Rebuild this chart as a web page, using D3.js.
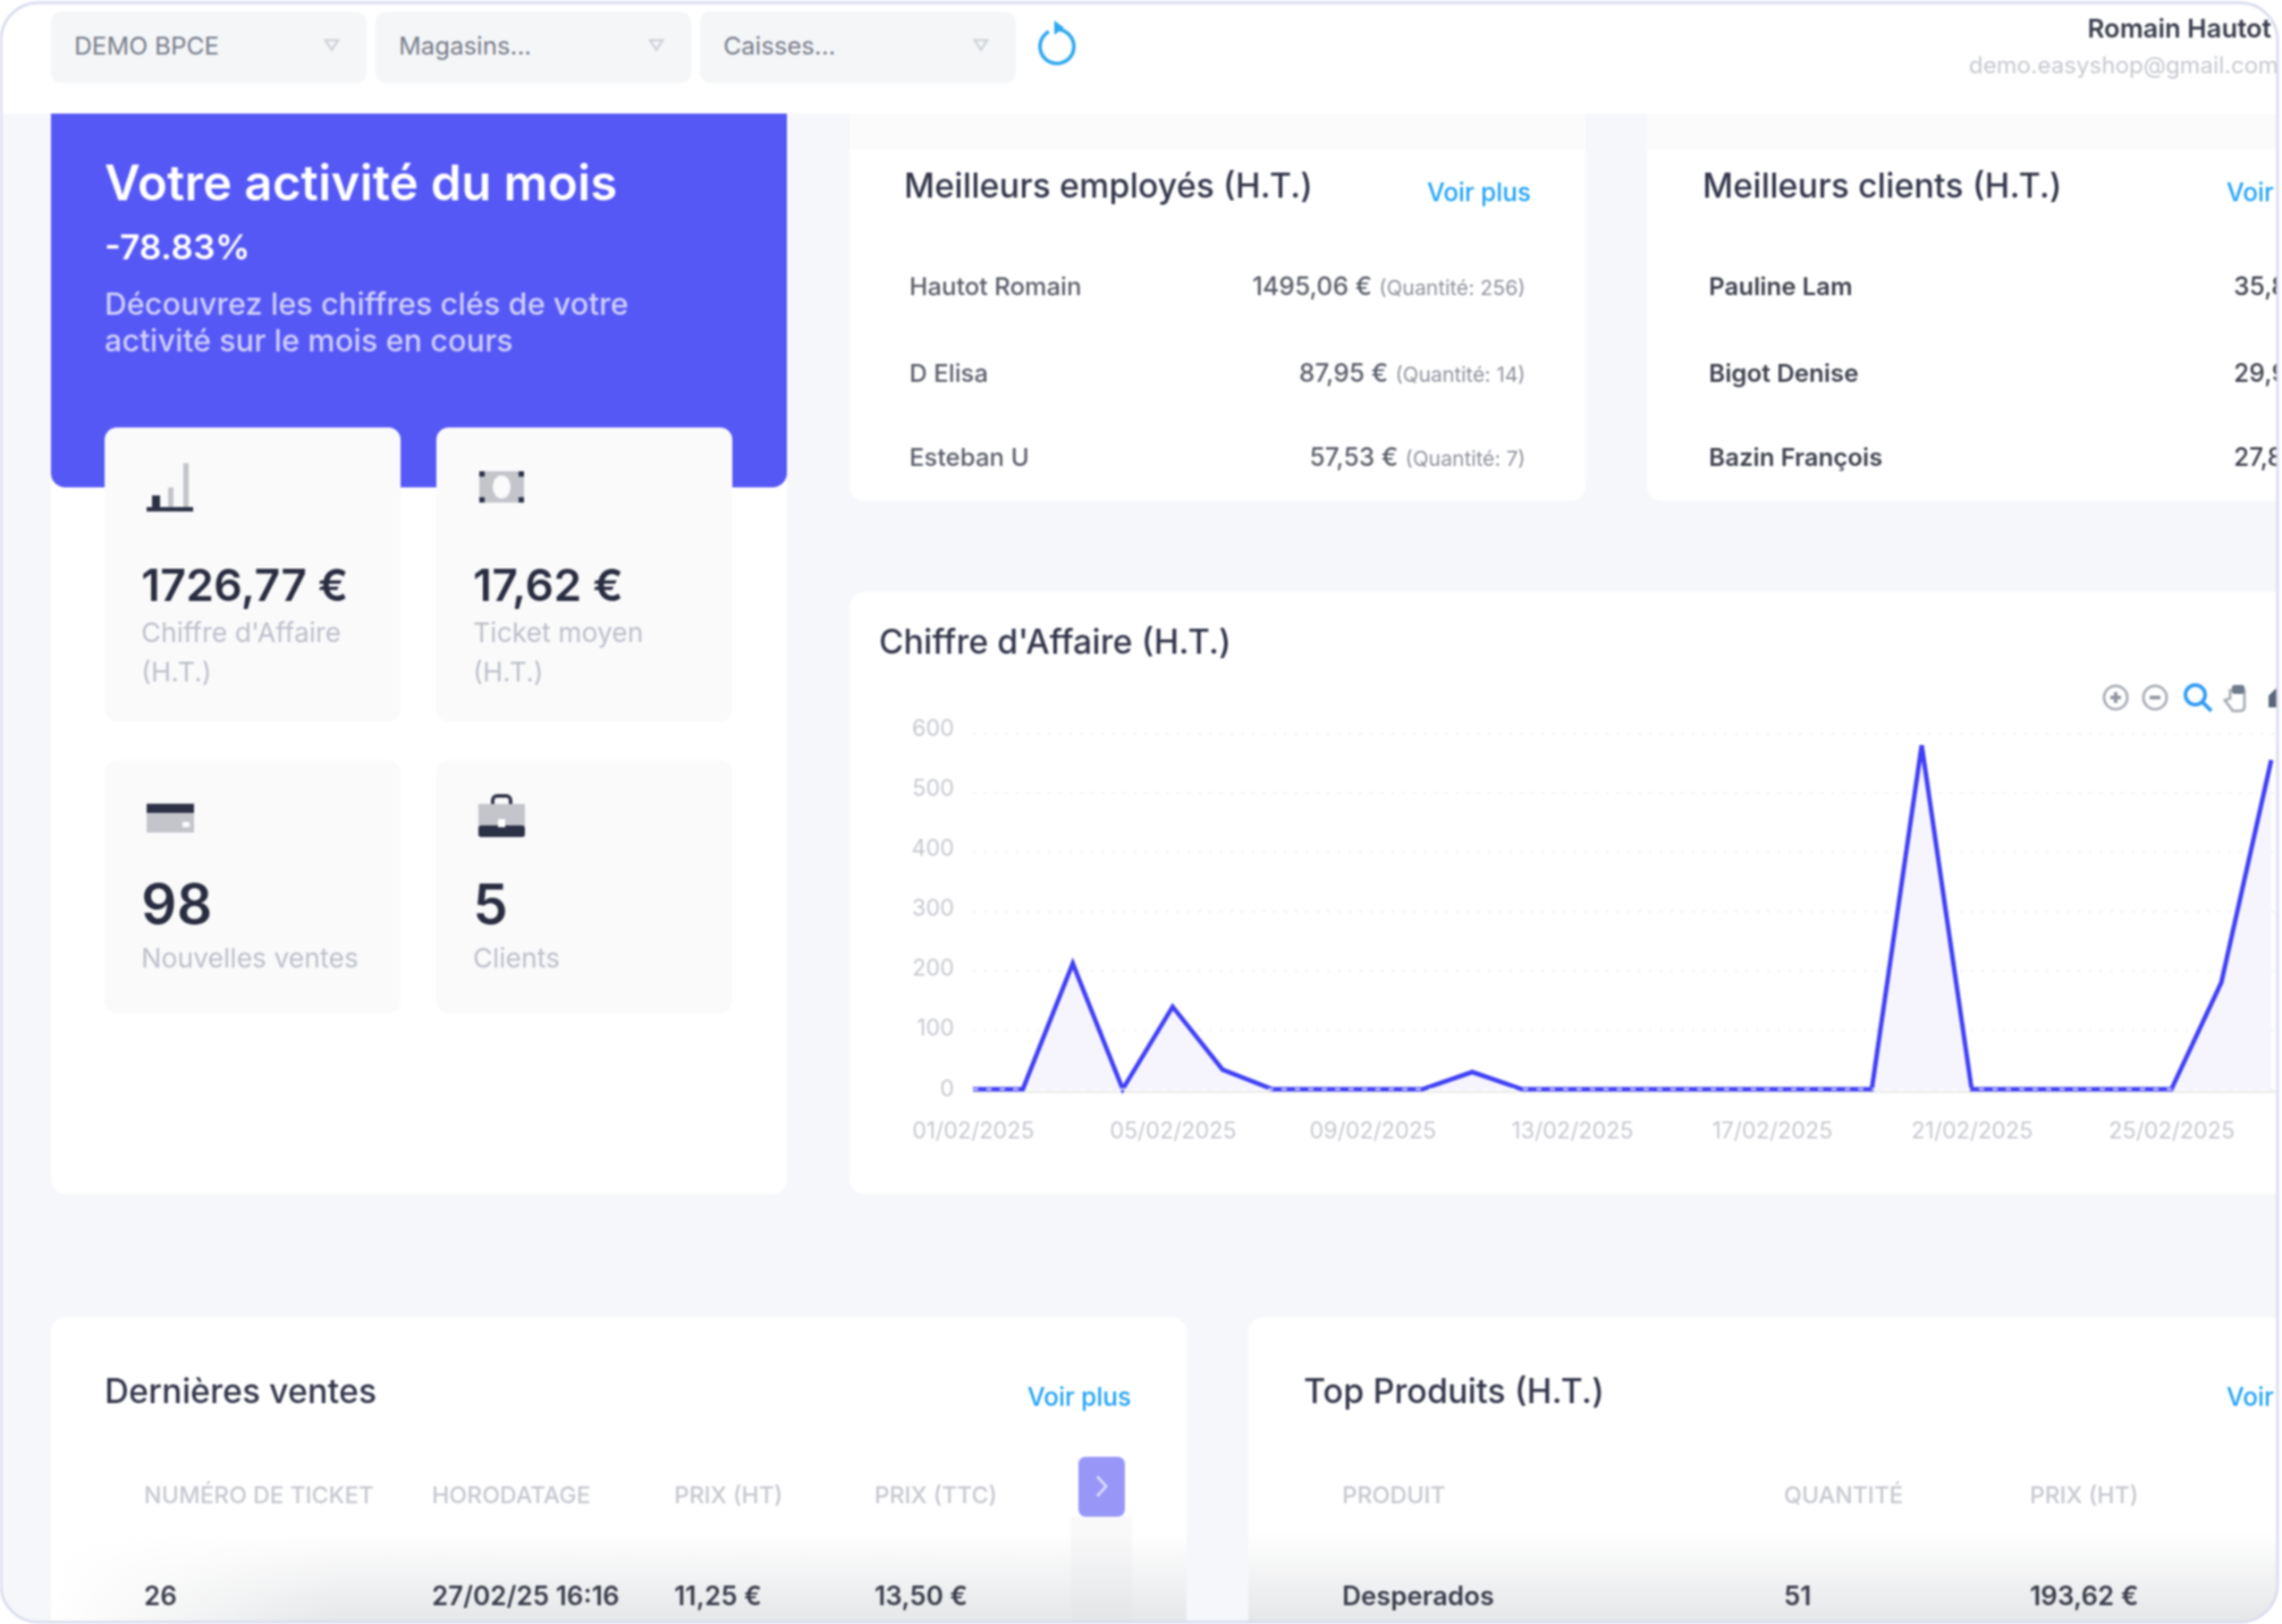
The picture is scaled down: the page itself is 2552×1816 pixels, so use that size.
<!DOCTYPE html>
<html lang="fr">
<head>
<meta charset="utf-8">
<title>Votre activité du mois</title>
<script src="https://cdn.jsdelivr.net/npm/d3@7"></script>
<style>
  html, body { margin: 0; padding: 0; background: #fff; }
  svg { display: block; font-family: Inter, "Noto Sans", sans-serif; filter: blur(1.2px); }
</style>
</head>
<body>
<div id="chart"></div>
<script>
/***********************************************************************/
//Data
/***********************************************************************/
const days = [
  '2025-02-01', '2025-02-02', '2025-02-03', '2025-02-04', '2025-02-05', '2025-02-06', '2025-02-07',
  '2025-02-08', '2025-02-09', '2025-02-10', '2025-02-11', '2025-02-12', '2025-02-13', '2025-02-14',
  '2025-02-15', '2025-02-16', '2025-02-17', '2025-02-18', '2025-02-19', '2025-02-20', '2025-02-21',
  '2025-02-22', '2025-02-23', '2025-02-24', '2025-02-25', '2025-02-26', '2025-02-27',
];
const revenue = [0, 0, 212, 0, 139, 33, 0, 0, 0, 0, 29, 0, 0, 0, 0, 0, 0, 0, 0, 580, 0, 0, 0, 0, 0, 180, 555];
const yTicks = [0, 100, 200, 300, 400, 500, 600];
const xTicks = ['2025-02-01', '2025-02-05', '2025-02-09', '2025-02-13', '2025-02-17', '2025-02-21', '2025-02-25'];

const filters = ['DEMO BPCE', 'Magasins...', 'Caisses...'];

const statValues = ['1726,77 €', '17,62 €', '98', '5'];
const statLabels = [["Chiffre d'Affaire", '(H.T.)'], ['Ticket moyen', '(H.T.)'], ['Nouvelles ventes'], ['Clients']];

const employees = ['Hautot Romain', 'D Elisa', 'Esteban U'];
const employeeAmounts = ['1495,06 €', '87,95 €', '57,53 €'];
const employeeQuantities = ['(Quantité: 256)', '(Quantité: 14)', '(Quantité: 7)'];

const clients = ['Pauline Lam', 'Bigot Denise', 'Bazin François'];
const clientAmounts = ['35,80 €', '29,90 €', '27,80 €'];

const salesHeaders = ['NUMÉRO DE TICKET', 'HORODATAGE', 'PRIX (HT)', 'PRIX (TTC)'];
const salesRow = ['26', '27/02/25 16:16', '11,25 €', '13,50 €'];
const productHeaders = ['PRODUIT', 'QUANTITÉ', 'PRIX (HT)'];
const productRow = ['Desperados', '51', '193,62 €'];

/***********************************************************************/
//Helpers
/***********************************************************************/
const W = 2552;
const H = 1816;
const DARK = '#33364a';
const BLUE_LINK = '#1fa2f5';
const GREY = '#bcbfc9';

const svg = d3.select('#chart').append('svg').attr('width', W).attr('height', H);
const defs = svg.append('defs');

defs.append('clipPath').attr('id', 'frame')
  .append('rect').attr('x', 1).attr('y', 3).attr('width', W - 6).attr('height', H - 5).attr('rx', 42);

const bottomFade = defs.append('linearGradient').attr('id', 'bottom-fade')
  .attr('x1', 0).attr('y1', 0).attr('x2', 0).attr('y2', 1);
bottomFade.append('stop').attr('offset', 0).attr('stop-color', '#d9dbde').attr('stop-opacity', 0);
bottomFade.append('stop').attr('offset', 1).attr('stop-color', '#d9dbde').attr('stop-opacity', 0.7);

const leftFade = defs.append('linearGradient').attr('id', 'left-fade');
leftFade.append('stop').attr('offset', 0).attr('stop-color', '#fff').attr('stop-opacity', 0);
leftFade.append('stop').attr('offset', 0.25).attr('stop-color', '#fff').attr('stop-opacity', 1);
defs.append('mask').attr('id', 'left-mask').attr('maskUnits', 'userSpaceOnUse')
  .attr('x', 57).attr('y', 1700).attr('width', 1270).attr('height', 116)
  .append('rect').attr('x', 57).attr('y', 1700).attr('width', 1270).attr('height', 116).attr('fill', 'url(#left-fade)');

const page = svg.append('g').attr('clip-path', 'url(#frame)');

const label = (parent, x, y, text, opts = {}) =>
  parent.append('text')
    .attr('x', x)
    .attr('y', y)
    .attr('text-anchor', opts.anchor || 'start')
    .attr('font-size', opts.size || 27.5)
    .attr('font-weight', opts.weight || 400)
    .attr('fill', opts.fill || DARK)
    .text(text);

const card = (x, y, w, h, fill = '#fff', r = 16) =>
  page.append('rect').attr('x', x).attr('y', y).attr('width', w).attr('height', h).attr('rx', r).attr('fill', fill);

/***********************************************************************/
//Page background and top bar
/***********************************************************************/
page.append('rect').attr('width', W).attr('height', H).attr('fill', '#f5f7fa');

card(57, 127, 823, 1208);
card(950, 127, 823, 433);
card(1842, 127, 800, 433);
card(950, 662, 1700, 673);
card(57, 1473, 1270, 400);
card(1396, 1473, 1250, 400);

// soft shadow of the top bar on the two upper cards
page.append('rect').attr('x', 950).attr('y', 127).attr('width', 823).attr('height', 40).attr('fill', '#fbfbfb');
page.append('rect').attr('x', 1842).attr('y', 127).attr('width', 720).attr('height', 40).attr('fill', '#fbfbfb');
page.append('rect').attr('width', W).attr('height', 127).attr('fill', '#fff');

filters.forEach((name, i) => {
  const x = 57 + i * 363;
  card(x, 13, 353, 80, '#f4f6f8', 12);
  label(page, x + 26, 61, name, { size: 27.5, fill: '#777b88' });
  page.append('path')
    .attr('d', d3.line()([[x + 307, 45], [x + 321, 45], [x + 314, 56]]) + 'Z')
    .attr('fill', 'none').attr('stroke', '#cfd2d8').attr('stroke-width', 2.5);
});

// refresh icon
const refresh = page.append('g').attr('transform', 'translate(1182,52)');
refresh.append('path')
  .attr('d', d3.arc()({ innerRadius: 17, outerRadius: 21, startAngle: 0.1, endAngle: 2 * Math.PI - 0.5 }))
  .attr('fill', '#2fa8ee');
refresh.append('path').attr('d', 'M-3,-29 L8,-21 L-3,-13 Z').attr('fill', '#2fa8ee');

label(page, 2540, 42, 'Romain Hautot', { anchor: 'end', size: 29, weight: 600, fill: '#3a3d4c' });
label(page, 2548, 82, 'demo.easyshop@gmail.com', { anchor: 'end', size: 25.9, fill: '#c6c8cf' });

/***********************************************************************/
//Monthly activity panel
/***********************************************************************/
page.append('path')
  .attr('d', 'M57,127 H880 V529 a16,16 0 0 1 -16,16 H73 a16,16 0 0 1 -16,-16 Z')
  .attr('fill', '#5558f5');
label(page, 117, 224, 'Votre activité du mois', { size: 54.8, weight: 600, fill: '#fff' });
label(page, 117, 290, '-78.83%', { size: 38.8, weight: 600, fill: '#fff' });
label(page, 117, 352, 'Découvrez les chiffres clés de votre', { size: 34.2, weight: 500, fill: '#cfcffc' });
label(page, 117, 393, 'activité sur le mois en cours', { size: 34.2, weight: 500, fill: '#cfcffc' });

const statX = [117, 488];
const statBoxes = [
  { y: 478, h: 329, valueY: 672, labelY: 718, size: 50 },
  { y: 850, h: 283, valueY: 1033, labelY: 1082, size: 62 },
];
statValues.forEach((value, i) => {
  const box = statBoxes[Math.floor(i / 2)];
  const x = statX[i % 2];
  card(x, box.y, 331, box.h, '#fafafb', 14);
  label(page, x + 41, box.valueY, value, { size: box.size, weight: 600, fill: '#2a2d40' });
  statLabels[i].forEach((line, j) => {
    label(page, x + 41, box.labelY + j * 44, line, { size: 30, fill: GREY });
  });
});

// stat icons
const iconDark = '#2d3146';
const iconLight = '#c3c5cb';
const barsIcon = page.append('g').attr('transform', 'translate(164,518)');
barsIcon.append('rect').attr('x', 0).attr('y', 49).attr('width', 52).attr('height', 5).attr('fill', iconDark);
barsIcon.append('rect').attr('x', 6).attr('y', 36).attr('width', 9).attr('height', 13).attr('fill', iconDark);
barsIcon.append('rect').attr('x', 24).attr('y', 27).attr('width', 6).attr('height', 22).attr('fill', iconLight);
barsIcon.append('rect').attr('x', 41).attr('y', 0).attr('width', 6).attr('height', 49).attr('fill', iconLight);

const moneyIcon = page.append('g').attr('transform', 'translate(536,527)');
moneyIcon.append('rect').attr('width', 50).attr('height', 35).attr('fill', iconLight);
moneyIcon.append('ellipse').attr('cx', 25).attr('cy', 17.5).attr('rx', 10).attr('ry', 13).attr('fill', '#fafafb');
[[0, 0], [44, 0], [0, 29], [44, 29]].forEach(([cx, cy]) => {
  moneyIcon.append('rect').attr('x', cx).attr('y', cy).attr('width', 6).attr('height', 6).attr('fill', iconDark);
});

const cardIcon = page.append('g').attr('transform', 'translate(164,898)');
cardIcon.append('rect').attr('width', 53).attr('height', 33).attr('y', 0).attr('fill', iconLight);
cardIcon.append('rect').attr('width', 53).attr('height', 10).attr('y', 1).attr('fill', iconDark);
cardIcon.append('rect').attr('x', 40).attr('y', 21).attr('width', 8).attr('height', 6).attr('fill', '#fafafb');

const bagIcon = page.append('g').attr('transform', 'translate(535,889)');
bagIcon.append('path').attr('d', 'M16,10 v-4 a5,5 0 0 1 5,-5 h10 a5,5 0 0 1 5,5 v4').attr('fill', 'none').attr('stroke', iconDark).attr('stroke-width', 4);
bagIcon.append('rect').attr('y', 10).attr('width', 52).attr('height', 24).attr('fill', iconLight);
bagIcon.append('rect').attr('y', 34).attr('width', 52).attr('height', 13).attr('rx', 3).attr('fill', iconDark);
bagIcon.append('rect').attr('x', 22).attr('y', 27).attr('width', 8).attr('height', 9).attr('fill', '#fff');

/***********************************************************************/
//Best employees and clients
/***********************************************************************/
const rowY = [330, 427, 521];

label(page, 1011, 221, 'Meilleurs employés (H.T.)', { size: 37.5, weight: 500 });
label(page, 1712, 225, 'Voir plus', { anchor: 'end', size: 27.8, weight: 500, fill: BLUE_LINK });
employees.forEach((name, i) => {
  label(page, 1017, rowY[i], name, { weight: 500, fill: '#5b5e6a' });
  const row = label(page, 1706, rowY[i], employeeAmounts[i], { anchor: 'end', size: 28, weight: 500, fill: '#5b5e6a' });
  row.append('tspan').attr('dx', 8).attr('font-size', 23).attr('font-weight', 400).attr('fill', '#8f929c').text(employeeQuantities[i]);
});

label(page, 1904, 221, 'Meilleurs clients (H.T.)', { size: 37.5, weight: 500 });
label(page, 2490, 225, 'Voir plus', { size: 27.8, weight: 500, fill: BLUE_LINK });
clients.forEach((name, i) => {
  label(page, 1911, rowY[i], name, { size: 27.5, weight: 600, fill: '#3f424e' });
  label(page, 2498, rowY[i], clientAmounts[i], { size: 28, weight: 500, fill: '#3f424e' });
});

/***********************************************************************/
//Revenue chart
/***********************************************************************/
label(page, 983, 731, "Chiffre d'Affaire (H.T.)", { size: 37.5, weight: 500 });

const dates = days.map((d) => new Date(d));
const x = d3.scaleUtc().domain(d3.extent(dates)).range([1088, 2540]);
const y = d3.scaleLinear().domain([0, 600]).range([1218, 820]);
// the tick labels sit a little off their gridlines in the reference
const yLabels = d3.scaleLinear().domain([0, 600]).range([1225, 822]);

const plot = page.append('g');

plot.append('g')
  .attr('transform', 'translate(1088,0)')
  .call(d3.axisLeft(y).tickValues(yTicks).tickSize(-1500).tickFormat(''))
  .call((g) => g.select('.domain').remove())
  .call((g) => g.selectAll('line').attr('stroke', '#eef0f2').attr('stroke-width', 2).attr('stroke-dasharray', '3 9'));

plot.append('g')
  .attr('transform', 'translate(1088,0)')
  .call(d3.axisLeft(yLabels).tickValues(yTicks).tickSize(0).tickPadding(21))
  .call((g) => g.select('.domain').remove())
  .call((g) => g.selectAll('text').attr('dy', 0).attr('font-size', 25).attr('font-family', 'Inter').attr('fill', '#c6c8cf'));

plot.append('line')
  .attr('x1', 1088).attr('x2', W).attr('y1', y(0) + 3).attr('y2', y(0) + 3)
  .attr('stroke', '#ececea').attr('stroke-width', 2.5);

plot.append('path')
  .datum(revenue)
  .attr('d', d3.area().x((d, i) => x(dates[i])).y0(y(0) + 2).y1((d) => y(d)))
  .attr('fill', '#f6f5fe');

plot.append('path')
  .datum(revenue)
  .attr('d', d3.line().x((d, i) => x(dates[i])).y((d) => y(d)))
  .attr('fill', 'none')
  .attr('stroke', '#3f3ff5')
  .attr('stroke-width', 5)
  .attr('stroke-linejoin', 'miter');

// the dotted zero gridline sits above the series
plot.append('line')
  .attr('x1', 1088).attr('x2', 2540).attr('y1', y(0)).attr('y2', y(0))
  .attr('stroke', '#fff').attr('stroke-opacity', 0.7).attr('stroke-width', 2.5).attr('stroke-dasharray', '6 9');

plot.append('g')
  .attr('transform', 'translate(0,1221)')
  .call(d3.axisBottom(x).tickValues(xTicks.map((d) => new Date(d))).tickFormat(d3.utcFormat('%d/%m/%Y')).tickSize(0).tickPadding(34))
  .call((g) => g.select('.domain').remove())
  .call((g) => g.selectAll('text').attr('font-size', 25).attr('font-family', 'Inter').attr('fill', '#c6c8cf'));

// chart toolbar
const toolbar = page.append('g').attr('transform', 'translate(0,780)');
[2366, 2410].forEach((cx, i) => {
  toolbar.append('circle').attr('cx', cx).attr('r', 13).attr('fill', 'none').attr('stroke', '#a9adb6').attr('stroke-width', 3);
  toolbar.append('rect').attr('x', cx - 6).attr('y', -2).attr('width', 12).attr('height', 4).attr('fill', '#8f949e');
  if (i === 0) toolbar.append('rect').attr('x', cx - 2).attr('y', -6).attr('width', 4).attr('height', 12).attr('fill', '#8f949e');
});
toolbar.append('circle').attr('cx', 2455).attr('cy', -3).attr('r', 11).attr('fill', 'none').attr('stroke', '#2f9af5').attr('stroke-width', 4);
toolbar.append('line').attr('x1', 2463).attr('y1', 5).attr('x2', 2473).attr('y2', 15).attr('stroke', '#2f9af5').attr('stroke-width', 4);
toolbar.append('path')
  .attr('d', 'M2494,-8 h16 v18 q0,5 -5,5 h-8 l-9,-12 l6,-2 Z')
  .attr('fill', '#fff').attr('stroke', '#a9adb6').attr('stroke-width', 3);
toolbar.append('rect').attr('x', 2496).attr('y', -14).attr('width', 14).attr('height', 10).attr('rx', 3).attr('fill', '#6f7a8a');
toolbar.append('path').attr('d', 'M2537,-2 l11,-11 v24 h-11 Z').attr('fill', '#566578');

/***********************************************************************/
//Latest sales and top products
/***********************************************************************/
const salesX = [161, 483, 754, 978];
const productX = [1501, 1995, 2270];

// scroll button
card(1206, 1629, 52, 67, '#9897f8', 8);
page.append('path').attr('d', 'M1227,1651 l10,11 l-10,11').attr('fill', 'none').attr('stroke', '#dcdcff').attr('stroke-width', 3);
page.append('rect').attr('x', 1198).attr('y', 1696).attr('width', 68).attr('height', 120).attr('fill', '#f7f7f8').attr('opacity', 0.7);

// grey fade behind the last table row
page.append('rect').attr('x', 57).attr('y', 1715).attr('width', 1270).attr('height', 101)
  .attr('fill', 'url(#bottom-fade)').attr('mask', 'url(#left-mask)');
page.append('rect').attr('x', 1396).attr('y', 1715).attr('width', 1160).attr('height', 101)
  .attr('fill', 'url(#bottom-fade)');

const table = (titleText, titleX, linkX, linkAnchor, headers, row, columns) => {
  label(page, titleX, 1569, titleText, { size: 37.5, weight: 500 });
  label(page, linkX, 1572, 'Voir plus', { anchor: linkAnchor, size: 27.8, weight: 500, fill: BLUE_LINK });
  headers.forEach((h, i) => label(page, columns[i], 1681, h, { size: 26, weight: 500, fill: '#c6c8cf' }));
  row.forEach((cell, i) => label(page, columns[i], 1795, cell, { size: 29.2, weight: 600, fill: '#3a3d4a' }));
};

table('Dernières ventes', 117, 1265, 'end', salesHeaders, salesRow, salesX);
table('Top Produits (H.T.)', 1458, 2490, 'start', productHeaders, productRow, productX);

/***********************************************************************/
//Frame
/***********************************************************************/
svg.append('rect')
  .attr('x', 1).attr('y', 3).attr('width', W - 6).attr('height', H - 5).attr('rx', 42)
  .attr('fill', 'none').attr('stroke', '#d9dcee').attr('stroke-width', 3);
</script>
</body>
</html>
